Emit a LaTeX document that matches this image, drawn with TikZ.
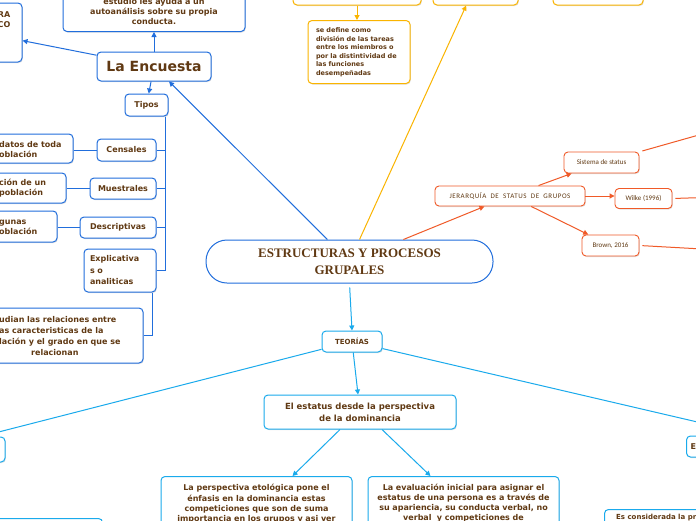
\documentclass[tikz,border=0pt]{standalone}
\usepackage{fontspec}
\setmainfont{DejaVu Sans}
\newfontfamily\serifb{Liberation Serif}
\newfontfamily\carl{Carlito}
\newfontfamily\carlsp[LetterSpace=8]{Carlito}
\usetikzlibrary{arrows.meta,shadows}
\definecolor{tbrown}{RGB}{96,57,19}
\definecolor{dblue}{RGB}{33,110,220}
\definecolor{lblue}{RGB}{26,170,236}
\definecolor{amber}{RGB}{250,180,0}
\definecolor{ored}{RGB}{240,90,40}
\tikzset{
 box/.style={draw, rounded corners=4pt, fill=white, line width=1pt, text=tbrown, align=center, inner sep=2pt,
   font=\bfseries\fontsize{8}{10}\selectfont,
   general shadow={fill=black!12, shadow xshift=0.8pt, shadow yshift=-1pt}},
 bbox/.style={box, draw=dblue},
 lbox/.style={box, draw=lblue},
 abox/.style={box, draw=amber},
 obox/.style={box, draw=ored, line width=0.9pt, font=\carl\fontsize{7}{8}\selectfont},
 frag/.style={text=tbrown, font=\bfseries\fontsize{8}{10}\selectfont, align=left, inner sep=0pt},
 con/.style={line width=1pt},
 arr/.style={con, -{Triangle[length=5pt,width=5pt]}},
}
\begin{document}
\begin{tikzpicture}[x=1pt,y=-1pt]
\useasboundingbox (0,0) rectangle (696,520);
\clip (0,0) rectangle (696,520);
\fill[white] (0,0) rectangle (696,520);

% ---------- La Encuesta branch ----------
\node[bbox, minimum width=82pt, minimum height=59pt] (tl) at (-19,32.5) {};
\node[frag, anchor=east, align=right] (tlt) at (10.5,19.5) {RA\\CO};
\node[bbox, anchor=south, minimum width=182pt, text width=176pt, inner ysep=7pt] (topbox) at (154,32)
  {estudio les ayuda a un\\autoanálisis sobre su propia\\conducta.};
\node[bbox, minimum width=114pt, minimum height=29pt, font=\bfseries\fontsize{14}{16}\selectfont] (encuesta) at (154,66.5) {La Encuesta};
\node[bbox, minimum width=43pt, minimum height=22pt] (tipos) at (146.5,105) {Tipos};
\node[bbox, minimum width=59pt, minimum height=22pt] (censales) at (126.5,150) {Censales};
\node[bbox, minimum width=66pt, minimum height=21pt] (muestrales) at (123,188.5) {Muestrales};
\node[bbox, minimum width=76pt, minimum height=21pt] (descriptivas) at (118,227.5) {Descriptivas};
\node[bbox, minimum width=72pt, minimum height=43pt, text width=60pt, align=left, font=\bfseries\fontsize{8}{11.5}\selectfont] (explic) at (120,270.5) {Explicativa\\s o\\analiticas};

\node[bbox, minimum width=133pt, minimum height=29pt] (cleaf) at (6.5,148.5) {};
\node[frag, anchor=west] (ct) at (-1,149.5) {datos de toda\\oblación};
\node[bbox, minimum width=126pt, minimum height=30pt] (mleaf) at (3,188) {};
\node[frag, anchor=west] (mt) at (-1,188.5) {ción de un\\población};
\node[bbox, minimum width=117pt, minimum height=31pt] (dleaf) at (-1.5,226.5) {};
\node[frag, anchor=west] (dt) at (-1,227) {gunas\\oblación};
\node[bbox, minimum width=203pt, minimum height=55pt] (eleaf) at (41.5,335.5) {};
\node[frag, anchor=west, font=\bfseries\fontsize{8}{11}\selectfont] (et) at (-1,336.5)
  {udian las relaciones entre\\as caracteristicas de la\\lación y el grado en que se\\\hspace*{32pt}relacionan};

\draw[arr, dblue] (encuesta) -- (tl);
\draw[arr, dblue] (encuesta.north) -- (topbox.south);
\draw[arr, dblue] (encuesta) -- (tipos);
\draw[con, dblue] ([xshift=-3pt]tipos.south east) |- (censales.east);
\draw[con, dblue] ([xshift=-3pt]tipos.south east) |- (muestrales.east);
\draw[con, dblue] ([xshift=-3pt]tipos.south east) |- (descriptivas.east);
\draw[con, dblue] ([xshift=-3pt]tipos.south east) |- (explic.east);
\draw[con, dblue] (censales.west) -- (censales.west -| cleaf.east);
\draw[con, dblue] (muestrales.west) -- (muestrales.west -| mleaf.east);
\draw[con, dblue] (descriptivas.west) -- (descriptivas.west -| dleaf.east);
\draw[con, dblue] ([xshift=-4pt]explic.south east) |- (eleaf.east);

% ---------- central ----------
\node[draw=dblue, line width=1pt, fill=white, rounded corners=21pt, minimum width=287pt, minimum height=43pt,
  text=tbrown, align=center, font=\serifb\bfseries\fontsize{13}{17}\selectfont] (central) at (349.5,261.5)
  {ESTRUCTURAS Y PROCESOS\\GRUPALES};
\draw[arr, dblue] (central) -- (encuesta);

% ---------- amber branch ----------
\node[abox, minimum width=128pt, minimum height=40pt] (oa) at (357,-15) {};
\node[abox, minimum width=85pt, minimum height=40pt] (ob) at (475.5,-15) {};
\node[abox, minimum width=90pt, minimum height=40pt] (oc) at (598,-15) {};
\node[abox, anchor=north, minimum width=102pt, minimum height=63pt, text width=86pt, align=left,
  font=\bfseries\fontsize{6.5}{8.5}\selectfont] (sedef) at (359,20)
  {se define como\\división de las tareas\\entre los miembros o\\por la distintividad de\\las funciones\\desempeñadas};
\draw[arr, amber] (oa.south) -- (oa.south |- sedef.north);
\draw[arr, amber] (central) -- (ob);

% ---------- red branch ----------
\node[obox, minimum width=150pt, minimum height=20pt, font=\carlsp\fontsize{7}{8}\selectfont] (jer) at (510,196) {JERARQUÍA~ DE~ STATUS~ DE~ GRUPOS};
\node[obox, minimum width=75pt, minimum height=21pt] (sist) at (601.5,162.5) {Sistema de status};
\node[obox, minimum width=57pt, minimum height=20pt] (wilke) at (643.5,198.5) {Wilke (1996)};
\node[obox, minimum width=57pt, minimum height=21pt] (brown) at (610.5,245.5) {Brown, 2016};
\coordinate (sistend) at (720,129);
\coordinate (wilend) at (720,197);
\coordinate (brend) at (720,250);
\draw[arr, ored] (central) -- (jer);
\draw[arr, ored] (jer) -- (sist);
\draw[arr, ored] (jer.east) -- (jer.east -| wilke.west);
\draw[arr, ored] (jer) -- (brown);
\draw[con, ored, shorten <=3pt] (sist) -- (sistend);
\draw[con, ored, shorten <=3pt] (wilke.east) -- (wilend);
\draw[con, ored, shorten <=3pt] (brown.east) -- (brend);

% ---------- Teorias branch ----------
\node[lbox, minimum width=60pt, minimum height=21pt, font=\bfseries\fontsize{7}{9}\selectfont] (teorias) at (352,341.5) {TEORÍAS};
\draw[arr, lblue, shorten <=4pt] (central.south) -- (teorias.north);
\node[lbox, minimum width=192pt, minimum height=34pt, font=\bfseries\fontsize{8.5}{12}\selectfont] (domin) at (360,412)
  {El estatus desde la perspectiva\\de la dominancia};
\node[lbox, minimum width=65pt, minimum height=25pt] (leftmid) at (-27.5,449.5) {};
\node[lbox, minimum width=74pt, minimum height=21pt, anchor=west, text width=66pt, align=left] (rightmid) at (686,446.5) {E};
\coordinate (tlw) at (-60,447);
\coordinate (tre) at (760,436.6);
\draw[con, lblue] (teorias) -- (tlw);
\draw[con, lblue] (teorias) -- (tre);
\draw[arr, lblue] (teorias) -- (domin);

\node[lbox, anchor=north, minimum width=191pt, text width=185pt, inner ysep=8pt,
  font=\bfseries\fontsize{8}{10.3}\selectfont] (etol) at (256.5,476)
  {La perspectiva etológica pone el\\énfasis en la dominancia estas\\competiciones que son de suma\\importancia en los grupos y asi ver};
\node[lbox, anchor=north, minimum width=191pt, text width=185pt, inner ysep=8pt,
  font=\bfseries\fontsize{8}{9.7}\selectfont] (eval) at (463.5,476)
  {La evaluación inicial para asignar el\\estatus de una persona es a través de\\su apariencia, su conducta verbal, no\\verbal\ \ y competiciones de};
\draw[arr, lblue] ([xshift=-20pt]domin.south) -- ([xshift=36pt]etol.north);
\draw[arr, lblue] ([xshift=22pt]domin.south) -- ([xshift=-33pt]eval.north);

\node[lbox, anchor=north west, minimum width=162pt, minimum height=40pt] (lbot) at (-60,518) {};
\node[lbox, anchor=north west, minimum width=160pt, minimum height=40pt] (rbot) at (604,509) {};
\node[frag, anchor=west, font=\bfseries\fontsize{7}{9}\selectfont] (rbt) at (616,517.5) {Es considerada la pr};
\end{tikzpicture}
\end{document}
